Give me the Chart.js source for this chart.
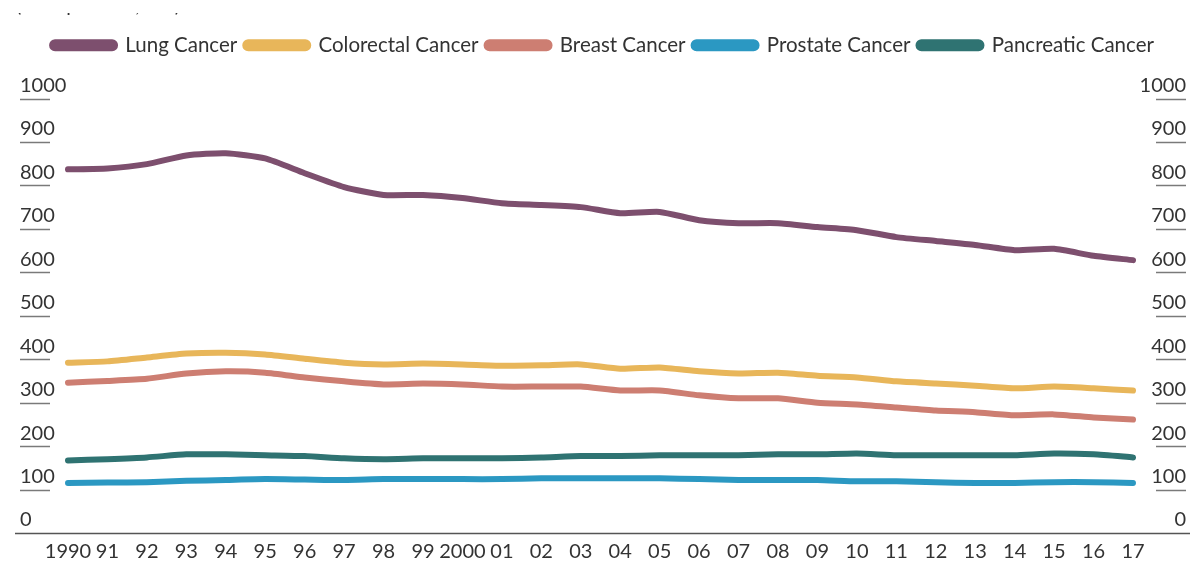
<!DOCTYPE html>
<html>
<head>
<meta charset="utf-8">
<script src="https://cdn.jsdelivr.net/npm/chart.js@4.4.1/dist/chart.umd.min.js"></script>
<style>
  html, body { margin: 0; padding: 0; background: #fff; overflow: hidden; }
</style>
</head>
<body>
<canvas id="cancerChart" width="1193" height="563"></canvas>
<script>
const years = ['1990', '91', '92', '93', '94', '95', '96', '97', '98', '99', '2000', '01', '02', '03',
    '04', '05', '06', '07', '08', '09', '10', '11', '12', '13', '14', '15', '16', '17'];

const lung       = [837, 839, 849, 869, 874, 862, 828, 796, 778, 778, 771, 759, 755, 750,
                    736, 739, 720, 713, 713, 704, 697, 681, 672, 663, 651, 654, 638, 628];
const colorectal = [392, 395, 404, 413, 415, 411, 401, 392, 388, 390, 388, 385, 386, 388,
                    378, 381, 372, 367, 369, 362, 358, 349, 344, 339, 333, 337, 333, 328];
const breast     = [346, 350, 355, 367, 372, 369, 358, 349, 342, 344, 342, 337, 337, 337,
                    328, 328, 317, 310, 310, 300, 296, 289, 282, 278, 271, 273, 266, 261];
const prostate   = [115, 116, 117, 120, 122, 124, 123, 122, 124, 124, 124, 124, 126, 126,
                    126, 126, 124, 122, 122, 122, 119, 119, 117, 115, 115, 117, 117, 115];
const pancreatic = [167, 170, 174, 181, 181, 179, 177, 172, 170, 172, 172, 172, 174, 177,
                    177, 179, 179, 179, 181, 181, 183, 179, 179, 179, 179, 183, 181, 174];

const yTicks = [0, 100, 200, 300, 400, 500, 600, 700, 800, 900, 1000];

const unitText = '(Rate per 100,000)';

const FONT = 'Lato, sans-serif';
const INK = '#333';

function line(label, data, color) {
    return {
        label,
        data,
        borderColor: color,
        backgroundColor: color,
        borderWidth: 6,
        borderCapStyle: 'round',
        borderJoinStyle: 'round',
        pointRadius: 0,
        tension: 0.2,
        yAxisID: 'y'
    };
}

// short rules under the value labels, a baseline wider than the plot,
// and the unit line that sits mostly above the top edge
const axisRules = {
    id: 'axisRules',
    afterDraw(chart) {
        const c = chart.ctx;
        const area = chart.chartArea;
        c.save();
        c.lineWidth = 1.5;
        c.strokeStyle = '#7a7a7a';
        for (const id of ['y', 'y2']) {
            const s = chart.scales[id];
            const x0 = id === 'y' ? s.left : s.right - 30;
            for (const v of yTicks) {
                if (v === 0) continue;
                const py = Math.round(s.getPixelForValue(v)) + 0.5;
                c.beginPath();
                c.moveTo(x0, py);
                c.lineTo(x0 + 30, py);
                c.stroke();
            }
        }
        c.strokeStyle = '#555';
        c.beginPath();
        c.moveTo(15, area.bottom + 0.5);
        c.lineTo(1190, area.bottom + 0.5);
        c.stroke();

        c.beginPath();
        c.rect(0, 13, 400, 8);
        c.clip();
        c.fillStyle = INK;
        c.font = '20px ' + FONT;
        c.textBaseline = 'alphabetic';
        c.fillText(unitText, 16, 12);
        c.restore();
    }
};

// leave room between the legend row and the plot
const legendGap = {
    id: 'legendGap',
    beforeInit(chart) {
        const fit = chart.legend.fit;
        chart.legend.fit = function () {
            fit.bind(chart.legend)();
            this.height += 33;
        };
    }
};

const valueTicks = {
    crossAlign: 'far',
    labelOffset: -13,
    color: INK,
    font: { family: FONT, size: 20 },
    callback: v => String(v)
};

const ctx = document.getElementById('cancerChart').getContext('2d');
const chart = new Chart(ctx, {
    type: 'line',
    data: {
        labels: years,
        datasets: [
            line('Lung Cancer', lung, '#7d4f6e'),
            line('Colorectal Cancer', colorectal, '#e8b65a'),
            line('Breast Cancer', breast, '#cd7e72'),
            line('Prostate Cancer', prostate, '#2b98c2'),
            line('Pancreatic Cancer', pancreatic, '#2f7372')
        ]
    },
    options: {
        responsive: false,
        animation: false,
        devicePixelRatio: 1,
        layout: { padding: { top: 27, left: 20, right: 7, bottom: 0 } },
        plugins: {
            legend: {
                position: 'top',
                align: 'center',
                labels: {
                    boxWidth: 63,
                    boxHeight: 6,
                    useBorderRadius: true,
                    borderRadius: 3,
                    padding: 8,
                    color: INK,
                    font: { family: FONT, size: 20.5 }
                }
            },
            tooltip: { enabled: false }
        },
        scales: {
            x: {
                afterFit: s => { s.height = 30; },
                grid: { display: false, drawTicks: false },
                border: { display: false },
                ticks: {
                    autoSkip: false,
                    maxRotation: 0,
                    padding: 7,
                    color: INK,
                    font: { family: FONT, size: 20 }
                }
            },
            y: {
                position: 'left',
                min: 0,
                max: 1000,
                afterBuildTicks: s => { s.ticks = yTicks.map(v => ({ value: v })); },
                afterFit: s => { s.width = 48; },
                grid: { display: false, drawTicks: false },
                border: { display: false },
                ticks: valueTicks
            },
            y2: {
                position: 'right',
                min: 0,
                max: 1000,
                afterBuildTicks: s => { s.ticks = yTicks.map(v => ({ value: v })); },
                afterFit: s => { s.width = 53; },
                grid: { display: false, drawTicks: false },
                border: { display: false },
                ticks: valueTicks
            }
        }
    },
    plugins: [axisRules, legendGap]
});
</script>
</body>
</html>
